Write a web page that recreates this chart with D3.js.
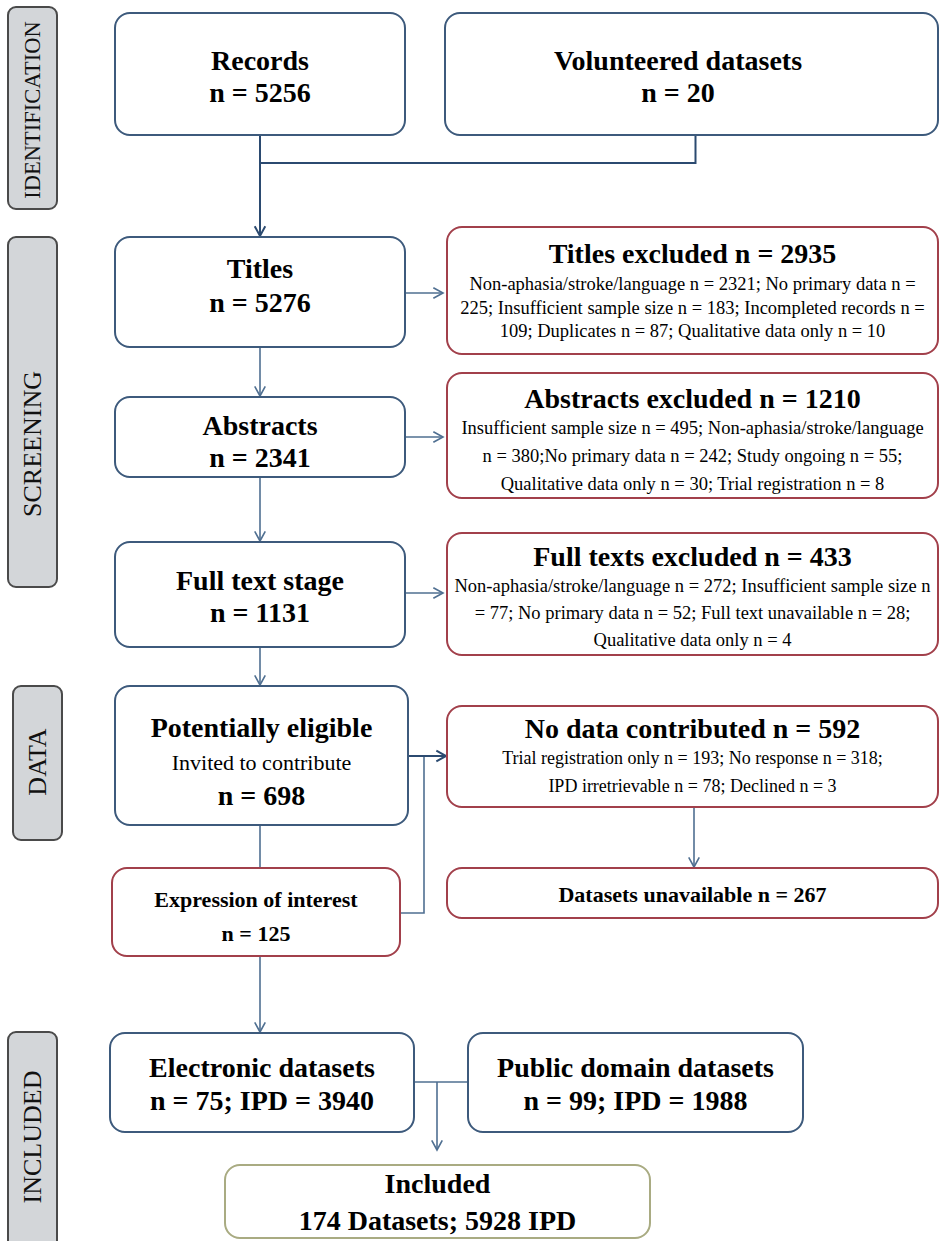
<!DOCTYPE html>
<html><head><meta charset="utf-8">
<script src="https://cdn.jsdelivr.net/npm/d3@7"></script>
<style>html,body{margin:0;padding:0;background:#fff;} svg{display:block;}</style>
</head><body><div id="chart"></div>
<script>
// ---------------- DATA ----------------
const stageLabels = ["IDENTIFICATION", "SCREENING", "DATA", "INCLUDED"];
const flowTitles = ["Records", "Volunteered datasets", "Titles", "Abstracts", "Full text stage",
  "Potentially eligible", "Expression of interest", "Electronic datasets", "Public domain datasets", "Included"];
const flowCounts = [5256, 20, 5276, 2341, 1131, 698, 125, 75, 99, 174];
const ipdCounts = [3940, 1988, 5928];
const invitedNote = "Invited to contribute";
const exclusionTitles = ["Titles excluded", "Abstracts excluded", "Full texts excluded", "No data contributed", "Datasets unavailable"];
const exclusionCounts = [2935, 1210, 433, 592, 267];
const exclusionReasons = [
  ["Non-aphasia/stroke/language n = 2321; No primary data n =",
   "225; Insufficient sample size n = 183; Incompleted records n =",
   "109; Duplicates n = 87; Qualitative data only n = 10"],
  ["Insufficient sample size n = 495; Non-aphasia/stroke/language",
   "n = 380;No primary data n = 242; Study ongoing n = 55;",
   "Qualitative data only n = 30; Trial registration n = 8"],
  ["Non-aphasia/stroke/language n = 272; Insufficient sample size n",
   "= 77; No primary data n = 52; Full text unavailable n = 28;",
   "Qualitative data only n = 4"],
  ["Trial registration only n = 193; No response n = 318;",
   "IPD irretrievable n = 78; Declined n = 3"],
  []
];

// ---------------- LAYOUT ----------------
const W = 940, H = 1241;
const FONT = "'Liberation Serif','Times New Roman',Times,serif";
const COL = {blue: "#3d5a7c", red: "#a2404b", olive: "#a9ab82", sideFill: "#d3d6d9", sideStroke: "#4a4a4a", line: "#4f6f91", dark: "#2b4a70"};

const sideBoxes = [
  {x0: 8, y0: 7, x1: 57, y1: 209, ty: 110, size: 22.5},
  {x0: 8, y0: 237, x1: 57, y1: 587, ty: 444, size: 26},
  {x0: 13, y0: 686, x1: 62, y1: 840, ty: 762, size: 26},
  {x0: 8, y0: 1032, x1: 57, y1: 1260, ty: 1137, size: 26}
];

// main flow boxes (same order as flowTitles)
const flowBoxes = [
  {x0: 115, y0: 13, x1: 405, y1: 135, kind: "blue", ys: [70, 102]},
  {x0: 445, y0: 13, x1: 938, y1: 135, kind: "blue", ys: [70, 102], cx: 678},
  {x0: 115, y0: 237, x1: 405, y1: 347, kind: "blue", ys: [278, 312]},
  {x0: 115, y0: 397, x1: 405, y1: 477, kind: "blue", ys: [435, 467]},
  {x0: 115, y0: 542, x1: 405, y1: 647, kind: "blue", ys: [590, 622]},
  {x0: 115, y0: 686, x1: 408, y1: 825, kind: "blue", ys: [737, 805], noteY: 770},
  {x0: 112, y0: 868, x1: 400, y1: 956, kind: "red", ys: [907, 941], size: 22},
  {x0: 110, y0: 1033, x1: 414, y1: 1132, kind: "blue", ys: [1077, 1110]},
  {x0: 468, y0: 1033, x1: 803, y1: 1132, kind: "blue", ys: [1077, 1110]},
  {x0: 225, y0: 1165, x1: 650, y1: 1238, kind: "olive", ys: [1193, 1230]}
];

const exclBoxes = [
  {x0: 447, y0: 227, x1: 938, y1: 354, ty: 263, ys: [290, 314, 337]},
  {x0: 447, y0: 373, x1: 938, y1: 498, ty: 408, ys: [434, 462, 490]},
  {x0: 447, y0: 533, x1: 938, y1: 655, ty: 566, ys: [592, 619, 646]},
  {x0: 447, y0: 706, x1: 938, y1: 807, ty: 738, ys: [764, 792], size: 18},
  {x0: 447, y0: 868, x1: 938, y1: 918, ty: 902, ys: [], tsize: 22}
];

// ---------------- DRAW ----------------
const svg = d3.select("#chart").append("svg").attr("width", W).attr("height", H)
  .style("font-family", FONT);
svg.append("rect").attr("width", W).attr("height", H).attr("fill", "#fff");

// side stage labels
const side = svg.append("g").selectAll("g").data(stageLabels).join("g");
side.append("rect")
  .attr("x", (d, i) => sideBoxes[i].x0).attr("y", (d, i) => sideBoxes[i].y0)
  .attr("width", (d, i) => sideBoxes[i].x1 - sideBoxes[i].x0)
  .attr("height", (d, i) => sideBoxes[i].y1 - sideBoxes[i].y0)
  .attr("rx", 8).attr("fill", COL.sideFill).attr("stroke", COL.sideStroke).attr("stroke-width", 2);
side.append("text")
  .attr("transform", (d, i) => `translate(${(sideBoxes[i].x0 + sideBoxes[i].x1) / 2 + sideBoxes[i].size * 0.34},${sideBoxes[i].ty}) rotate(-90)`)
  .attr("text-anchor", "middle").attr("font-size", (d, i) => sideBoxes[i].size).attr("fill", "#111")
  .text(d => d);

function drawBox(b, kind) {
  svg.append("rect").attr("x", b.x0).attr("y", b.y0).attr("width", b.x1 - b.x0).attr("height", b.y1 - b.y0)
    .attr("rx", 15).attr("fill", "#fff").attr("stroke", COL[kind]).attr("stroke-width", 2);
}
function drawText(x, y, s, size, bold) {
  svg.append("text").attr("x", x).attr("y", y).attr("text-anchor", "middle")
    .attr("font-size", size).attr("font-weight", bold ? "bold" : "normal").attr("fill", "#000").text(s);
}

// connectors
function line(pts, color, w) {
  svg.append("path").attr("d", d3.line()(pts)).attr("fill", "none")
    .attr("stroke", color || COL.line).attr("stroke-width", w || 1.6);
}
function arrow(pts, color, w) {
  line(pts, color, w);
  const [x1, y1] = pts[pts.length - 1], [x0, y0] = pts[pts.length - 2];
  const a = Math.atan2(y1 - y0, x1 - x0), L = 11, s = 0.5;
  line([[x1 - L * Math.cos(a - s), y1 - L * Math.sin(a - s)], [x1, y1], [x1 - L * Math.cos(a + s), y1 - L * Math.sin(a + s)]], color, w);
}
const F = flowBoxes, E = exclBoxes;
const cxOf = b => (b.x0 + b.x1) / 2;
// identification -> titles
line([[cxOf(F[1]) + 4, F[1].y1], [cxOf(F[1]) + 4, 163], [cxOf(F[0]), 163]], COL.dark, 2);
arrow([[cxOf(F[0]), F[0].y1], [cxOf(F[0]), F[2].y0 - 1]], COL.dark, 2);
// screening column
arrow([[cxOf(F[2]), F[2].y1], [cxOf(F[2]), F[3].y0 - 1]]);
arrow([[cxOf(F[3]), F[3].y1], [cxOf(F[3]), F[4].y0 - 1]]);
arrow([[cxOf(F[4]), F[4].y1], [cxOf(F[4]), F[5].y0 - 1]]);
// exclusions
arrow([[F[2].x1, 293], [E[0].x0 - 4, 293]]);
arrow([[F[3].x1, 437], [E[1].x0 - 4, 437]]);
arrow([[F[4].x1, 593], [E[2].x0 - 4, 593]]);
// data stage
line([[cxOf(F[4]), F[5].y1], [cxOf(F[4]), F[6].y0]]);
line([[F[6].x1, 913], [424, 913], [424, 756]]);
arrow([[F[5].x1, 756], [E[3].x0 - 1, 756]], COL.dark, 2);
arrow([[694, E[3].y1], [694, E[4].y0 - 1]]);
// included stage
arrow([[cxOf(F[4]), F[6].y1], [cxOf(F[4]), F[7].y0 - 1]]);
line([[F[7].x1, 1082], [F[8].x0, 1082]]);
arrow([[437, 1082], [437, 1150]]);

// boxes + text
flowTitles.forEach((t, i) => {
  const b = F[i];
  drawBox(b, b.kind);
  const cx = b.cx || cxOf(b);
  const size = b.size || 28;
  drawText(cx, b.ys[0], t, size, true);
  let second = "n = " + flowCounts[i];
  if (i === 7) second += "; IPD = " + ipdCounts[0];
  if (i === 8) second += "; IPD = " + ipdCounts[1];
  if (i === 9) second = flowCounts[i] + " Datasets; " + ipdCounts[2] + " IPD";
  drawText(cx, b.ys[1], second, size, true);
  if (b.noteY) drawText(cx, b.noteY, invitedNote, 22, false);
});

exclusionTitles.forEach((t, i) => {
  const b = E[i];
  drawBox(b, "red");
  const cx = cxOf(b);
  drawText(cx, b.ty, t + " n = " + exclusionCounts[i], b.tsize || 28, true);
  exclusionReasons[i].forEach((s, j) => drawText(cx, b.ys[j], s, b.size || 18.5, false));
});
</script>
</body></html>
